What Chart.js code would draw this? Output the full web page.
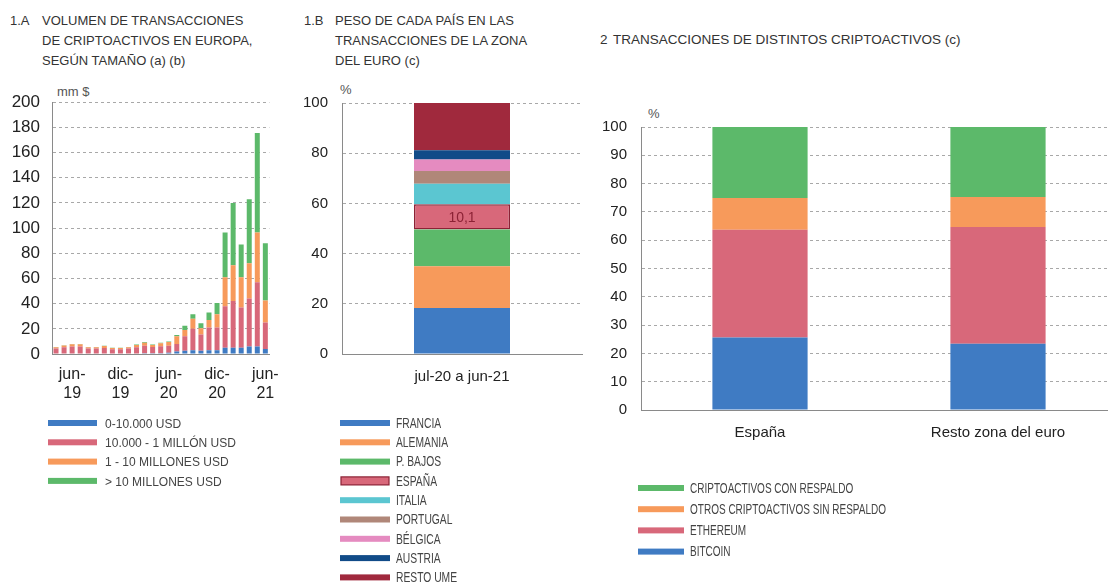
<!DOCTYPE html>
<html>
<head>
<meta charset="utf-8">
<script src="https://cdn.jsdelivr.net/npm/chart.js@4.4.1/dist/chart.umd.min.js"></script>
<style>
  html, body { margin: 0; padding: 0; background: #fff; overflow: hidden; }
  #page { position: relative; width: 1108px; height: 584px; font-family: "Liberation Sans", Arial, sans-serif; color: #333; }
  .box { position: absolute; }
  .ttl { position: absolute; font-size: 13px; line-height: 20px; color: #333; }
  .unit { position: absolute; font-size: 13px; color: #555; line-height: 16px; }
</style>
</head>
<body>
<div id="page">
  <div class="ttl" style="left:10px;top:11px">1.A</div>
  <div class="ttl" style="left:42px;top:11px">VOLUMEN DE TRANSACCIONES<br>DE CRIPTOACTIVOS EN EUROPA,<br>SEGÚN TAMAÑO (a) (b)</div>
  <div class="ttl" style="left:304px;top:11px">1.B</div>
  <div class="ttl" style="left:335px;top:11px">PESO DE CADA PAÍS EN LAS<br>TRANSACCIONES DE LA ZONA<br>DEL EURO (c)</div>
  <div class="ttl" style="left:600px;top:30px;font-size:13.5px">2</div>
  <div class="ttl" style="left:613px;top:30px;font-size:13.5px">TRANSACCIONES DE DISTINTOS CRIPTOACTIVOS (c)</div>

  <div class="unit" style="left:57px;top:84px">mm $</div>
  <div class="unit" style="left:340px;top:82px">%</div>
  <div class="unit" style="left:648px;top:106px">%</div>

  <div class="box" style="left:0;top:80px;width:290px;height:330px"><canvas id="c1a"></canvas></div>
  <div class="box" style="left:290px;top:80px;width:300px;height:330px"><canvas id="c1b"></canvas></div>
  <div class="box" style="left:590px;top:100px;width:530px;height:350px"><canvas id="c2"></canvas></div>

  <canvas class="box" id="leg1a" width="240" height="80" style="left:48px;top:413px"></canvas>
  <canvas class="box" id="leg1b" width="200" height="175" style="left:340px;top:413px"></canvas>
  <canvas class="box" id="leg2" width="300" height="90" style="left:638px;top:478px"></canvas>
</div>

<script>
// 1.A  volumen mensual por tamaño (mm $)
const months = ['abr-19','may-19','jun-19','jul-19','ago-19','sep-19','oct-19','nov-19','dic-19',
  'ene-20','feb-20','mar-20','abr-20','may-20','jun-20','jul-20','ago-20','sep-20','oct-20','nov-20','dic-20',
  'ene-21','feb-21','mar-21','abr-21','may-21','jun-21'];
const size0to10k = [0.3,0.3,0.4,0.4,0.3,0.3,0.3,0.3,0.3,0.3,0.4,0.5,0.5,0.6,1,2,2.5,3,2.5,3,3,5,5,5,6,6,4];
const size10kto1m = [4,5,5.5,5.5,4,4,4.5,3.5,3.5,4,5,6,5,5.5,5.5,6,11.5,17,13,18,18,33,37,32,38,51,21];
const size1to10m = [1,1.5,1.8,1.8,1,1,1.5,1,1,1,1.8,2.5,1.7,2.5,3,6,5,8,5,6,10.5,23,28.5,24,28,39.5,17.5];
const sizeOver10m = [0.2,0.2,0.3,0.3,0.2,0.2,0.2,0.2,0.2,0.2,0.3,0.5,0.3,0.4,0.5,1,3.5,3.5,4,6,9,35.5,49.5,26,51,79,45.5];
const sizeNames = ['0-10.000 USD','10.000 - 1 MILLÓN USD','1 - 10 MILLONES USD','> 10 MILLONES USD'];

// 1.B  peso de cada país (%)
const periodLabel = ['jul-20 a jun-21'];
const countries = ['FRANCIA','ALEMANIA','P. BAJOS','ESPAÑA','ITALIA','PORTUGAL','BÉLGICA','AUSTRIA','RESTO UME'];
const countryShares = [18.3,16.7,14.6,10.1,8.1,5.1,4.6,3.7,18.8];

// 2  tipos de criptoactivo (%)
const regions = ['España','Resto zona del euro'];
const bitcoin = [25.6,23.4];
const ethereum = [38.1,41.3];
const otrosSinRespaldo = [11.2,10.6];
const conRespaldo = [25.1,24.7];
const assetNames = ['CRIPTOACTIVOS CON RESPALDO','OTROS CRIPTOACTIVOS SIN RESPALDO','ETHEREUM','BITCOIN'];

const BLUE = '#3f7bc3', PINK = '#d8687a', ORANGE = '#f79a5b', GREEN = '#5cb96a';
const countryColors = ['#3f7bc3','#f79a5b','#5cb96a','#d8687a','#5bc6d1','#b08779','#e58bc0','#114b88','#a0293d'];
const spainBorder = '#8c2235';

const fam = '"Liberation Sans", Arial, sans-serif';

function yAxis(max, step, width, pad, size) {
  return {
    stacked: true, min: 0, max: max,
    ticks: { stepSize: step, color: '#222', font: { family: fam, size: size || 15 }, padding: pad },
    grid: { color: '#a8a8a8', drawTicks: false, lineWidth: 1 },
    border: { display: true, color: '#8a8a8a', width: 1, dash: [3, 3] },
    afterFit: (s) => { s.width = width; }
  };
}

function xAxis(height, pad, cb, size) {
  const ticks = { color: '#222', font: { family: fam, size: size || 15 }, padding: pad, autoSkip: false, maxRotation: 0 };
  if (cb) ticks.callback = cb;
  return {
    stacked: true,
    ticks: ticks,
    grid: { display: false, drawTicks: false },
    border: { display: true, color: '#8a8a8a', width: 1 },
    afterFit: (s) => { s.height = height; }
  };
}

const baseOpts = {
  responsive: true,
  maintainAspectRatio: false,
  animation: false,
  plugins: { legend: { display: false }, tooltip: { enabled: false } }
};

// ---- chart 1.A
new Chart(document.getElementById('c1a'), {
  type: 'bar',
  data: {
    labels: months,
    datasets: [
      { label: sizeNames[0], data: size0to10k, backgroundColor: BLUE },
      { label: sizeNames[1], data: size10kto1m, backgroundColor: PINK },
      { label: sizeNames[2], data: size1to10m, backgroundColor: ORANGE },
      { label: sizeNames[3], data: sizeOver10m, backgroundColor: GREEN }
    ]
  },
  options: Object.assign({}, baseOpts, {
    layout: { padding: { top: 21, right: 17, left: 0, bottom: 0 } },
    datasets: { bar: { barPercentage: 0.62, categoryPercentage: 1 } },
    scales: {
      x: xAxis(56, 11, function (v, i) {
        const m = months[i];
        if (m.startsWith('jun') || m.startsWith('dic')) return [m.slice(0, 4), m.slice(4)];
        return '';
      }, 16),
      y: yAxis(200, 20, 52, 12, 17)
    }
  })
});

// ---- chart 1.B
const spainLabel = {
  id: 'spainLabel',
  afterDatasetsDraw(chart) {
    const bar = chart.getDatasetMeta(3).data[0];
    const ctx = chart.ctx;
    ctx.save();
    ctx.fillStyle = '#8c2235';
    ctx.font = '14px ' + fam;
    ctx.textAlign = 'center';
    ctx.textBaseline = 'middle';
    ctx.fillText(countryShares[3].toString().replace('.', ','), bar.x, (bar.y + bar.base) / 2 + 1);
    ctx.restore();
  }
};

new Chart(document.getElementById('c1b'), {
  type: 'bar',
  data: {
    labels: periodLabel,
    datasets: countries.map((c, i) => ({
      label: c,
      data: [countryShares[i]],
      backgroundColor: countryColors[i],
      borderColor: i === 3 ? spainBorder : countryColors[i],
      borderWidth: i === 3 ? 1.5 : 0,
      borderSkipped: false
    }))
  },
  options: Object.assign({}, baseOpts, {
    layout: { padding: { top: 19, right: 8, left: 0, bottom: 0 } },
    datasets: { bar: { barPercentage: 0.4, categoryPercentage: 1 } },
    scales: {
      x: xAxis(56, 14),
      y: yAxis(100, 20, 52, 14)
    }
  }),
  plugins: [spainLabel]
});

// ---- chart 2
new Chart(document.getElementById('c2'), {
  type: 'bar',
  data: {
    labels: regions,
    datasets: [
      { label: 'BITCOIN', data: bitcoin, backgroundColor: BLUE },
      { label: 'ETHEREUM', data: ethereum, backgroundColor: PINK },
      { label: assetNames[1], data: otrosSinRespaldo, backgroundColor: ORANGE },
      { label: assetNames[0], data: conRespaldo, backgroundColor: GREEN }
    ]
  },
  options: Object.assign({}, baseOpts, {
    layout: { padding: { top: 27, right: 3, left: 0, bottom: 0 } },
    datasets: { bar: { barPercentage: 0.4, categoryPercentage: 1 } },
    scales: {
      x: xAxis(40, 14),
      y: yAxis(100, 10, 51, 14)
    }
  })
});

// ---- legends, drawn on small canvases with narrowed text
// fitName / fitW: the widest label and the width it takes in the original
function legend(id, names, colors, step, boxW, textX, fontPx, fitName, fitW, special) {
  const cv = document.getElementById(id);
  const ctx = cv.getContext('2d');
  ctx.font = fontPx + 'px ' + fam;
  const sx = Math.min(1, fitW / ctx.measureText(fitName).width);
  names.forEach((n, i) => {
    const cy = 10 + i * step;
    ctx.fillStyle = colors[i];
    if (special === i) {
      ctx.fillRect(1, cy - 4, boxW - 2, 8);
      ctx.strokeStyle = spainBorder;
      ctx.lineWidth = 1.2;
      ctx.strokeRect(1, cy - 4, boxW - 2, 8);
    } else {
      ctx.fillRect(0, cy - 3, boxW, 6);
    }
    ctx.save();
    ctx.translate(textX, cy);
    ctx.scale(sx, 1);
    ctx.fillStyle = '#444';
    ctx.textBaseline = 'middle';
    ctx.fillText(n, 0, 1);
    ctx.restore();
  });
}

legend('leg1a', sizeNames, [BLUE, PINK, ORANGE, GREEN], 19.3, 49, 57, 13.5, sizeNames[1], 131);
legend('leg1b', countries, countryColors, 19.3, 50, 56, 14, 'RESTO UME', 61, 3);
legend('leg2', assetNames, [GREEN, ORANGE, PINK, BLUE], 21.2, 46, 52, 14, assetNames[1], 196);
</script>
</body>
</html>
